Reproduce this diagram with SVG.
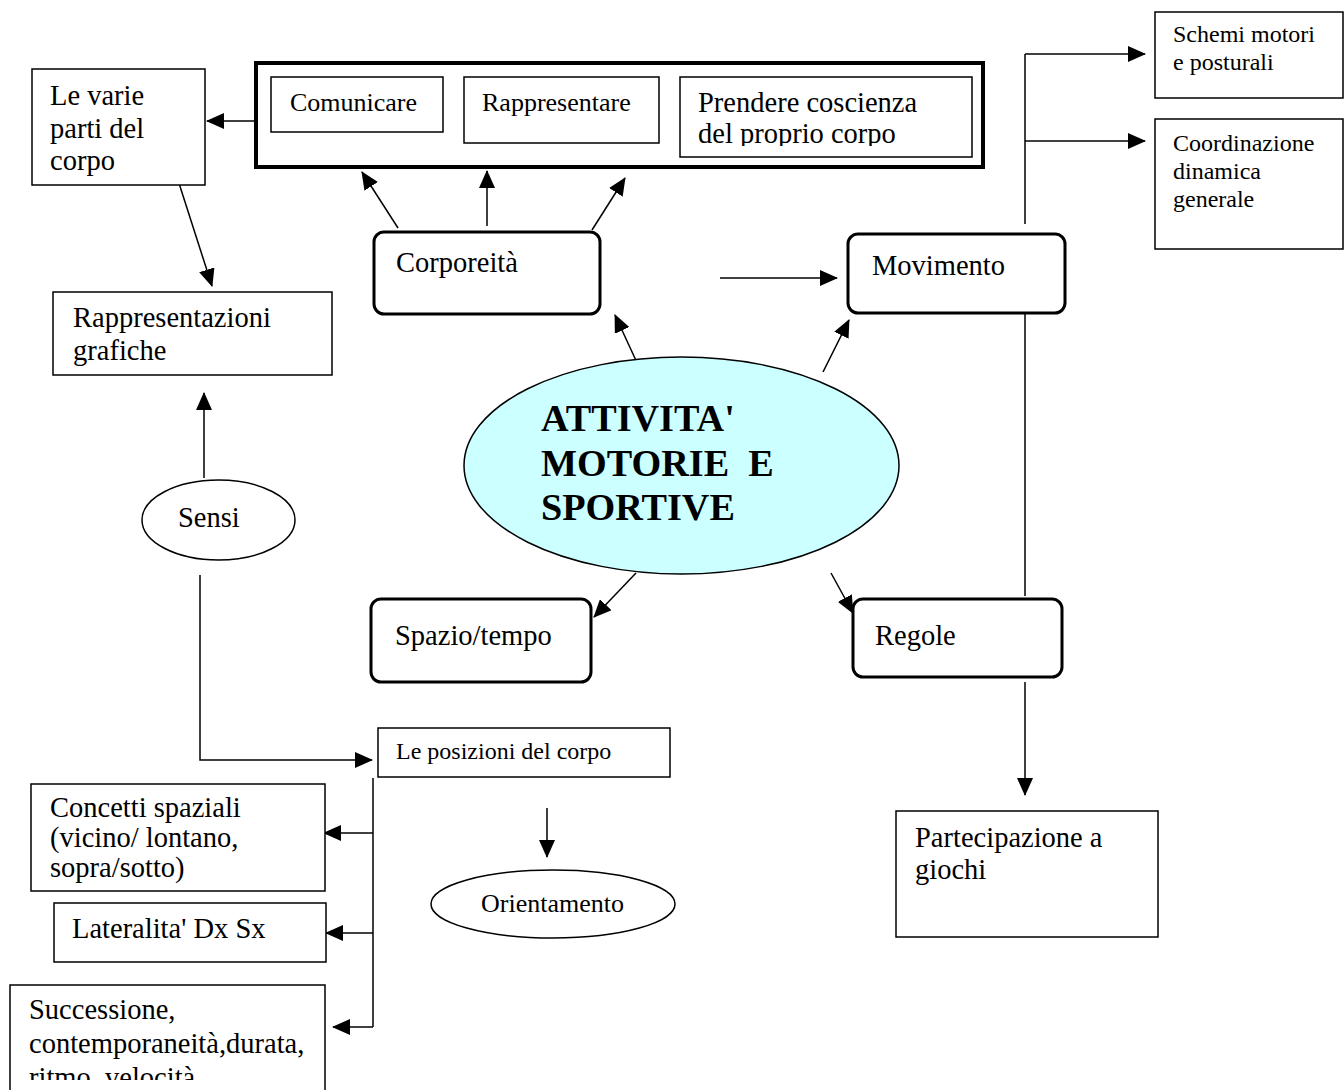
<svg xmlns="http://www.w3.org/2000/svg" width="1344" height="1090" viewBox="0 0 1344 1090">
  <style>
    text { font-family: "Liberation Serif", "Times New Roman", serif; fill: #000; }
    .t { font-size: 28.5px; }
    .ts { font-size: 26px; }
    .tx { font-size: 24px; }
    .title { font-size: 38.2px; font-weight: bold; }
    .box { fill: #fff; stroke: #000; stroke-width: 1.5; }
    .rbox { fill: #fff; stroke: #000; stroke-width: 3; }
    .frame { fill: #fff; stroke: #000; stroke-width: 4; }
    .ell { fill: #fff; stroke: #000; stroke-width: 1.5; }
    .core { fill: #CCFFFF; stroke: #000; stroke-width: 1.5; }
    .c line, .c polyline { stroke: #000; stroke-width: 1.5; fill: none; }
  </style>
  <defs>
    <marker id="ah" markerUnits="userSpaceOnUse" markerWidth="18" markerHeight="16" refX="17" refY="8" orient="auto">
      <path d="M0,0 L18,8 L0,16 z" fill="#000"/>
    </marker>
    <clipPath id="clipProprio"><rect x="680" y="78" width="292" height="68"/></clipPath>
    <clipPath id="clipSucc"><rect x="11" y="986" width="314" height="94"/></clipPath>
  </defs>

  <rect width="1344" height="1090" fill="#fff"/>

  <!-- connectors -->
  <g id="connectors" class="c">
    <line x1="256" y1="121" x2="207" y2="121" marker-end="url(#ah)"/>
    <line x1="177" y1="177" x2="212" y2="286" marker-end="url(#ah)"/>
    <line x1="204" y1="478" x2="204" y2="393" marker-end="url(#ah)"/>
    <line x1="398" y1="228" x2="362" y2="172" marker-end="url(#ah)"/>
    <line x1="487" y1="226" x2="487" y2="171" marker-end="url(#ah)"/>
    <line x1="592" y1="230" x2="625" y2="178" marker-end="url(#ah)"/>
    <line x1="720" y1="278" x2="837" y2="278" marker-end="url(#ah)"/>
    <line x1="639" y1="367" x2="615" y2="315" marker-end="url(#ah)"/>
    <line x1="823" y1="372" x2="849" y2="320" marker-end="url(#ah)"/>
    <line x1="636" y1="573" x2="594" y2="617" marker-end="url(#ah)"/>
    <line x1="831" y1="573" x2="853" y2="613" marker-end="url(#ah)"/>
    <!-- Movimento branches -->
    <line x1="1025" y1="224" x2="1025" y2="54"/>
    <line x1="1025" y1="54" x2="1145" y2="54" marker-end="url(#ah)"/>
    <line x1="1025" y1="141" x2="1145" y2="141" marker-end="url(#ah)"/>
    <line x1="1025" y1="313" x2="1025" y2="596"/>
    <line x1="1025" y1="682" x2="1025" y2="795" marker-end="url(#ah)"/>
    <!-- Sensi to body positions -->
    <polyline points="200,575 200,760 372,760" marker-end="url(#ah)"/>
    <!-- body positions branches -->
    <line x1="373" y1="778" x2="373" y2="1027"/>
    <line x1="373" y1="833" x2="324" y2="833" marker-end="url(#ah)"/>
    <line x1="373" y1="933" x2="326" y2="933" marker-end="url(#ah)"/>
    <line x1="373" y1="1027" x2="333" y2="1027" marker-end="url(#ah)"/>
    <line x1="547" y1="808" x2="547" y2="857" marker-end="url(#ah)"/>
  </g>

  <!-- central node -->
  <g id="attivita">
    <ellipse class="core" cx="681.5" cy="465.5" rx="217.5" ry="108.5"/>
    <text class="title" x="541" y="431">ATTIVITA'</text>
    <text class="title" x="541" y="476" xml:space="preserve">MOTORIE  E</text>
    <text class="title" x="541" y="520">SPORTIVE</text>
  </g>

  <g id="corpo-group">
    <rect class="frame" x="256" y="63" width="727" height="104"/>
    <g id="comunicare">
      <rect class="box" x="271" y="77" width="172" height="55"/>
      <text class="ts" x="290" y="111">Comunicare</text>
    </g>
    <g id="rappresentare">
      <rect class="box" x="464" y="77" width="195" height="66"/>
      <text class="ts" x="482" y="111">Rappresentare</text>
    </g>
    <g id="coscienza">
      <rect class="box" x="680" y="77" width="292" height="80"/>
      <text class="t" x="698" y="112">Prendere coscienza</text>
      <text class="t" x="698" y="143" clip-path="url(#clipProprio)">del proprio corpo</text>
    </g>
  </g>

  <g id="parti-corpo">
    <rect class="box" x="32" y="69" width="173" height="116"/>
    <text class="t" x="50" y="105">Le varie</text>
    <text class="t" x="50" y="138">parti del</text>
    <text class="t" x="50" y="170">corpo</text>
  </g>

  <g id="rappresentazioni">
    <rect class="box" x="53" y="292" width="279" height="83"/>
    <text class="t" x="73" y="327">Rappresentazioni</text>
    <text class="t" x="73" y="360">grafiche</text>
  </g>

  <g id="corporeita">
    <rect class="rbox" x="374" y="232" width="226" height="82" rx="10"/>
    <text class="t" x="396" y="272">Corporeità</text>
  </g>

  <g id="movimento">
    <rect class="rbox" x="848" y="234" width="217" height="79" rx="10"/>
    <text class="t" x="872" y="275">Movimento</text>
  </g>

  <g id="schemi">
    <rect class="box" x="1155" y="12" width="188" height="86"/>
    <text class="tx" x="1173" y="42">Schemi motori</text>
    <text class="tx" x="1173" y="70">e posturali</text>
  </g>

  <g id="coordinazione">
    <rect class="box" x="1155" y="119" width="188" height="130"/>
    <text class="tx" x="1173" y="151">Coordinazione</text>
    <text class="tx" x="1173" y="179">dinamica</text>
    <text class="tx" x="1173" y="207">generale</text>
  </g>

  <g id="sensi">
    <ellipse class="ell" cx="218.5" cy="520" rx="76.5" ry="40"/>
    <text class="t" x="178" y="527">Sensi</text>
  </g>

  <g id="spazio">
    <rect class="rbox" x="371" y="599" width="220" height="83" rx="10"/>
    <text class="t" x="395" y="645">Spazio/tempo</text>
  </g>

  <g id="regole">
    <rect class="rbox" x="853" y="599" width="209" height="78" rx="10"/>
    <text class="t" x="875" y="645">Regole</text>
  </g>

  <g id="posizioni">
    <rect class="box" x="378" y="728" width="292" height="49"/>
    <text class="tx" x="396" y="759">Le posizioni del corpo</text>
  </g>

  <g id="concetti">
    <rect class="box" x="31" y="784" width="294" height="107"/>
    <text class="t" x="50" y="817">Concetti spaziali</text>
    <text class="t" x="50" y="847">(vicino/ lontano,</text>
    <text class="t" x="50" y="877">sopra/sotto)</text>
  </g>

  <g id="lateralita">
    <rect class="box" x="54" y="903" width="272" height="59"/>
    <text class="t" x="72" y="938">Lateralita' Dx Sx</text>
  </g>

  <g id="successione">
    <rect class="box" x="10" y="985" width="315" height="120"/>
    <text class="t" x="29" y="1019">Successione,</text>
    <text class="t" x="29" y="1053">contemporaneità,durata,</text>
    <text class="t" x="29" y="1087" clip-path="url(#clipSucc)">ritmo, velocità</text>
  </g>

  <g id="orientamento">
    <ellipse class="ell" cx="553" cy="904" rx="122" ry="34"/>
    <text class="ts" x="481" y="912">Orientamento</text>
  </g>

  <g id="partecipazione">
    <rect class="box" x="896" y="811" width="262" height="126"/>
    <text class="t" x="915" y="847">Partecipazione a</text>
    <text class="t" x="915" y="879">giochi</text>
  </g>
</svg>
